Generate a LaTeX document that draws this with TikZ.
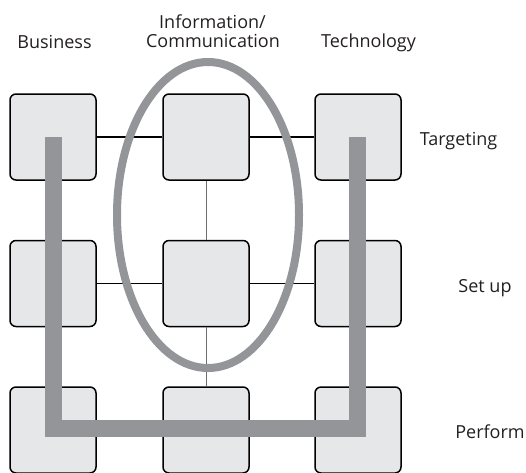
\documentclass[tikz,border=0pt]{standalone}
\usepackage{fontspec}
\setmainfont{Open Sans}
\usetikzlibrary{shapes.geometric}
\definecolor{boxfill}{HTML}{E6E7E8}
\definecolor{bargray}{HTML}{939598}
\definecolor{thingray}{HTML}{6D6E71}
\definecolor{txt}{HTML}{231F20}
\tikzset{
  cell/.style={draw=black, line width=1.5pt, fill=boxfill, rounded corners=6pt,
    minimum width=86pt, minimum height=86pt, inner sep=0pt},
  lbl/.style={anchor=base, inner sep=0pt, text=txt, font=\fontsize{18}{21}\selectfont},
  link/.style={draw=black, line width=1.3pt},
  vlink/.style={draw=thingray, line width=1pt},
  bar/.style={draw=bargray, line width=17pt, line join=miter},
  ring/.style={draw=bargray, line width=8pt}
}
\begin{document}
\begin{tikzpicture}[x=1pt,y=-1pt]
\useasboundingbox (0,0) rectangle (526,472);
% boxes
\node[cell] (b1) at (53,137) {};
\node[cell] (i1) at (206,137) {};
\node[cell] (t1) at (358,137) {};
\node[cell] (b2) at (53,283.5) {};
\node[cell] (i2) at (206,283.5) {};
\node[cell] (t2) at (358,283.5) {};
\node[cell] (b3) at (53,430) {};
\node[cell] (i3) at (206,430) {};
\node[cell] (t3) at (358,430) {};
% connectors
\draw[link] (b1.east) -- (i1.west);
\draw[link] (i1.east) -- (t1.west);
\draw[link] (b2.east) -- (i2.west);
\draw[link] (i2.east) -- (t2.west);
\draw[vlink] (i1.south) -- (i2.north);
\draw[vlink] (i2.south) -- (i3.north);
% ellipse
\node[ring, ellipse, minimum width=182pt, minimum height=306pt, inner sep=0pt] (oval) at (208,215) {};
% bars
\coordinate (bl) at (53.5,137);
\coordinate (blc) at (53.5,428.5);
\coordinate (brc) at (357,428.5);
\coordinate (br) at (357,137);
\draw[bar] (bl) -- (blc) -- (brc) -- (br);
% labels
\node[lbl] (lbus) at (54.5,48) {Business};
\node[lbl] (linf) at (212.5,28) {Information/};
\node[lbl] (lcom) at (213,47) {Communication};
\node[lbl] (ltec) at (368.5,47) {Technology};
\node[lbl] (ltar) at (458.5,145) {Targeting};
\node[lbl] (lset) at (485,292) {Set up};
\node[lbl] (lper) at (490,438) {Perform};
\end{tikzpicture}
\end{document}
